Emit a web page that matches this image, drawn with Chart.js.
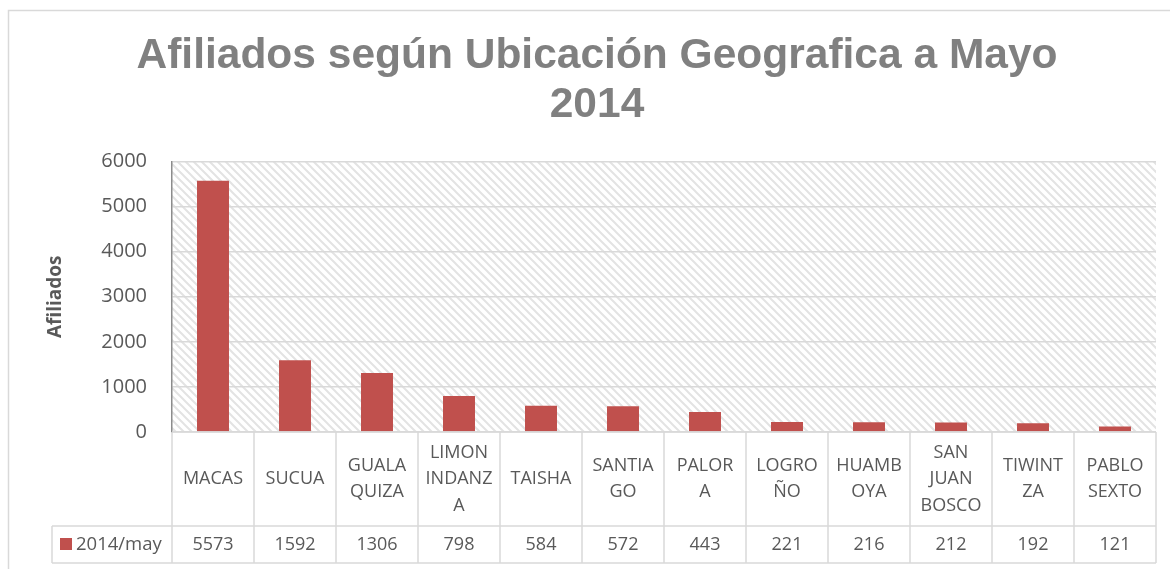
<!DOCTYPE html>
<html>
<head>
<meta charset="utf-8">
<script src="https://cdn.jsdelivr.net/npm/chart.js@4/dist/chart.umd.min.js"></script>
<style>
  html, body { margin: 0; padding: 0; background: #ffffff; }
  #wrap { width: 1170px; height: 569px; }
</style>
</head>
<body>
<div id="wrap"><canvas id="c" width="1170" height="569"></canvas></div>
<script>
// ---- data ----
const categories = [
  ['MACAS'], ['SUCUA'], ['GUALA', 'QUIZA'], ['LIMON', 'INDANZ', 'A'], ['TAISHA'],
  ['SANTIA', 'GO'], ['PALOR', 'A'], ['LOGRO', 'ÑO'], ['HUAMB', 'OYA'],
  ['SAN', 'JUAN', 'BOSCO'], ['TIWINT', 'ZA'], ['PABLO', 'SEXTO']
];
const seriesName = '2014/may';
const values = [5573, 1592, 1306, 798, 584, 572, 443, 221, 216, 212, 192, 121];
const yTicks = [0, 1000, 2000, 3000, 4000, 5000, 6000];
const titleLines = ['Afiliados según Ubicación Geografica a Mayo', '2014'];
const yTitle = 'Afiliados';

// ---- style ----
const BAR = '#C0504D';
const TXT = '#595959';
const LINE = '#d9d9d9';
const FONT = "'Open Sans', 'Noto Sans', sans-serif";

function makeHatch() {
  const s = 8;
  const p = document.createElement('canvas');
  p.width = s; p.height = s;
  const g = p.getContext('2d');
  g.fillStyle = '#ffffff';
  g.fillRect(0, 0, s, s);
  g.strokeStyle = '#e3e3e3';
  g.lineWidth = 2;
  g.beginPath();
  g.moveTo(-1, -1); g.lineTo(s + 1, s + 1);
  g.moveTo(s - 1, -1); g.lineTo(s + 1, 1);
  g.moveTo(-1, s - 1); g.lineTo(1, s + 1);
  g.stroke();
  return p;
}

const decor = {
  id: 'decor',
  beforeDraw(chart) {
    const ctx = chart.ctx;
    const a = chart.chartArea;
    ctx.save();
    ctx.strokeStyle = LINE;
    ctx.lineWidth = 1.5;
    ctx.strokeRect(8.5, 10.5, 1200, 600);
    ctx.fillStyle = ctx.createPattern(makeHatch(), 'repeat');
    ctx.fillRect(a.left, a.top, a.right - a.left, a.bottom - a.top);
    ctx.restore();
  },
  afterDraw(chart) {
    const ctx = chart.ctx;
    const a = chart.chartArea;
    const xs = chart.scales.x;
    const n = categories.length;
    const w = (a.right - a.left) / n;
    const top = a.bottom;
    const mid = top + 94;
    const bot = top + 131;
    const legLeft = 52;
    ctx.save();
    ctx.strokeStyle = LINE;
    ctx.lineWidth = 1.5;
    ctx.beginPath();
    ctx.moveTo(a.left, top); ctx.lineTo(a.right, top);
    ctx.moveTo(legLeft, mid); ctx.lineTo(a.right, mid);
    ctx.moveTo(legLeft, bot); ctx.lineTo(a.right, bot);
    for (let k = 1; k <= n; k++) {
      const x = a.left + k * w;
      ctx.moveTo(x, top); ctx.lineTo(x, bot);
    }
    ctx.moveTo(a.left, top); ctx.lineTo(a.left, bot);
    ctx.moveTo(legLeft, mid); ctx.lineTo(legLeft, bot);
    ctx.stroke();

    ctx.fillStyle = TXT;
    ctx.textAlign = 'center';
    ctx.textBaseline = 'middle';
    ctx.font = '18px ' + FONT;
    const rowC = (top + mid) / 2;
    const lh = 26.5;
    categories.forEach((lines, i) => {
      const cx = xs.getPixelForValue(i);
      const y0 = rowC - (lines.length - 1) * lh / 2;
      lines.forEach((t, j) => ctx.fillText(t, cx, y0 + j * lh));
    });
    const valC = (mid + bot) / 2;
    values.forEach((v, i) => {
      ctx.fillText(String(v), xs.getPixelForValue(i), valC);
    });
    ctx.fillStyle = BAR;
    ctx.fillRect(60, valC - 6.5, 12, 12);
    ctx.fillStyle = TXT;
    ctx.textAlign = 'left';
    ctx.font = '18.5px ' + FONT;
    ctx.fillText(seriesName, 76, valC);
    ctx.restore();
  }
};

new Chart(document.getElementById('c'), {
  type: 'bar',
  data: {
    labels: categories,
    datasets: [{
      label: seriesName,
      data: values,
      backgroundColor: BAR,
      borderWidth: 0,
      barPercentage: 0.39,
      categoryPercentage: 1.0
    }]
  },
  options: {
    responsive: false,
    animation: false,
    devicePixelRatio: 1,
    layout: { padding: { left: 38, right: 14, top: 0, bottom: 137 } },
    plugins: {
      legend: { display: false },
      tooltip: { enabled: false },
      title: {
        display: true,
        text: titleLines,
        color: '#808080',
        font: { family: "'Liberation Sans', Arial, sans-serif", size: 42.5, weight: 'bold', lineHeight: 1.17 },
        padding: { top: 31, bottom: 31 }
      }
    },
    scales: {
      x: {
        display: false,
        offset: true,
        grid: { display: false }
      },
      y: {
        min: 0,
        max: 6000,
        afterFit(s) { s.width = 134; },
        afterBuildTicks(s) { s.ticks = yTicks.map(v => ({ value: v })); },
        ticks: {
          stepSize: 1000,
          padding: 25,
          color: TXT,
          font: { family: FONT, size: 20 },
          callback: (v) => String(v)
        },
        grid: { color: LINE, lineWidth: 1.5, drawTicks: false },
        border: { display: true, color: '#8c8c8c', width: 1.5 },
        title: {
          display: true,
          text: yTitle,
          color: TXT,
          font: { family: FONT, size: 19, weight: 'bold' },
          padding: { top: 6, bottom: 0 }
        }
      }
    }
  },
  plugins: [decor]
});
</script>
</body>
</html>
